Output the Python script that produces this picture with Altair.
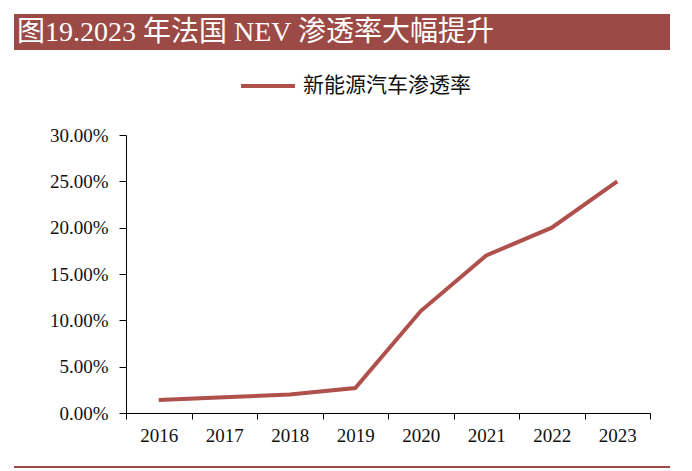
import altair as alt
import pandas as pd

years = [2016, 2017, 2018, 2019, 2020, 2021, 2022, 2023]
rates = [0.014, 0.017, 0.020, 0.027, 0.110, 0.170, 0.200, 0.250]
series_name = "新能源汽车渗透率"
title_text = "图19.2023 年法国 NEV 渗透率大幅提升"
y_ticks = [0, 0.05, 0.10, 0.15, 0.20, 0.25, 0.30]
x_ticks = [2015.5, 2016.5, 2017.5, 2018.5, 2019.5, 2020.5, 2021.5, 2022.5, 2023.5]

df = pd.DataFrame({"year": years, "rate": rates, "series": [series_name] * len(years)})

W, H = 524, 278
LINE_COLOR = "#B0504C"
BAR_COLOR = "#9B4A45"
SERIF = "Liberation Serif, Noto Sans CJK SC"
CJK = "Noto Sans CJK SC"

line = alt.Chart(df).mark_line(strokeWidth=4, strokeJoin="miter").encode(
    x=alt.X("year:Q",
            scale=alt.Scale(domain=[2015.5, 2023.5], nice=False, zero=False),
            axis=alt.Axis(values=x_ticks, title=None, grid=False,
                          labelExpr="datum.value < 2023 ? toString(datum.value + 0.5) : ''",
                          labelOffset=W / 16, labelFont=SERIF, labelFontSize=19,
                          labelColor="#111111", labelPadding=7,
                          tickSize=6, tickColor="#000000", domainColor="#000000",
                          labelFlush=False, labelOverlap=False)),
    y=alt.Y("rate:Q",
            scale=alt.Scale(domain=[0, 0.3], nice=False),
            axis=alt.Axis(values=y_ticks, format=".2%", title=None, grid=False,
                          labelFont=SERIF, labelFontSize=19, labelColor="#111111",
                          labelPadding=11, tickSize=7, tickColor="#000000",
                          domainColor="#000000")),
    color=alt.Color("series:N",
                    scale=alt.Scale(range=[LINE_COLOR]),
                    legend=alt.Legend(title=None, orient="none", legendX=113, legendY=-78,
                                      symbolType="stroke", symbolSize=2916,
                                      symbolStrokeWidth=4, labelFont=CJK,
                                      labelFontSize=21, labelColor="#111111",
                                      labelOffset=6, labelLimit=400)),
)

deco = pd.DataFrame({"k": [0]})

title_bar = alt.Chart(deco).mark_rect(color=BAR_COLOR).encode(
    x=alt.value(-112), x2=alt.value(556), y=alt.value(-121), y2=alt.value(-85)
)
title_label = alt.Chart(deco).mark_text(
    align="left", baseline="middle", font=SERIF, fontSize=28, color="#FFFFFF"
).encode(x=alt.value(-109), y=alt.value(-102), text=alt.value(title_text))
bottom_rule = alt.Chart(deco).mark_rect(color=BAR_COLOR).encode(
    x=alt.value(-112), x2=alt.value(556), y=alt.value(331), y2=alt.value(333)
)

chart = alt.layer(title_bar, title_label, bottom_rule, line).properties(
    width=W, height=H,
    autosize=alt.AutoSizeParams(type="none"),
    padding={"left": 118, "top": 127, "right": 20, "bottom": 58},
).configure(background="#FFFFFF").configure_view(strokeWidth=0)

chart.save("out.html", embed_options={"renderer": "svg", "actions": False})
